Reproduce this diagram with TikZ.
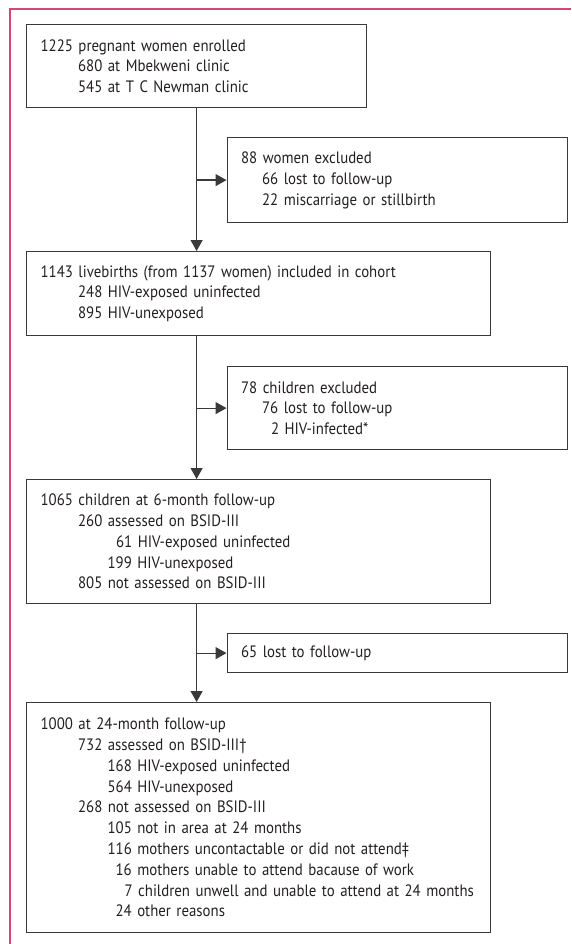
\documentclass[tikz,border=0pt]{standalone}
\usepackage{fontspec}
\setmainfont[FakeStretch=0.9]{PT Sans}
\usetikzlibrary{arrows.meta}
\definecolor{framepink}{RGB}{212,70,120}
\definecolor{boxgray}{RGB}{58,58,58}
\definecolor{txt}{RGB}{35,31,32}
\tikzset{
  box/.style={draw=boxgray, line width=1.2pt, anchor=north west, inner xsep=14pt, inner ysep=0pt,
    align=left, font=\fontsize{16.5}{20.78}\selectfont, text=txt},
  arr/.style={draw=boxgray, line width=1.2pt, -{Triangle[length=11pt,width=12pt]}}
}
\newcommand{\ind}[1]{\hspace*{#1pt}}
\begin{document}
\begin{tikzpicture}[x=1pt,y=-1pt]
\useasboundingbox (0,0) rectangle (571,944);
\draw[framepink, line width=1.3pt] (571,9) -- (10,9) -- (10,944);

\node[box, text width=312pt, minimum height=83pt] (b1) at (26,24)
 {1225 pregnant women enrolled\\
  \ind{37.5}680 at Mbekweni clinic\\
  \ind{37.5}545 at T C Newman clinic};

\node[box, text width=312pt, minimum height=85pt] (b2) at (226.5,137)
 {88 women excluded\\
  \ind{21}66 lost to follow-up\\
  \ind{21}22 miscarriage or stillbirth};

\node[box, text width=436pt, minimum height=84pt] (b3) at (26,251)
 {1143 livebirths (from 1137 women) included in cohort\\
  \ind{37.5}248 HIV-exposed uninfected\\
  \ind{37.5}895 HIV-unexposed};

\node[box, text width=312pt, minimum height=83pt] (b4) at (226.5,366)
 {78 children excluded\\
  \ind{21}76 lost to follow-up\\
  \ind{30}2 HIV-infected*};

\node[box, text width=436pt, minimum height=124pt] (b5) at (26,479)
 {1065 children at 6-month follow-up\\
  \ind{37.5}260 assessed on BSID-III\\
  \ind{75.5}61 HIV-exposed uninfected\\
  \ind{67}199 HIV-unexposed\\
  \ind{37.5}805 not assessed on BSID-III};

\node[box, text width=312pt, minimum height=39pt] (b6) at (226.5,633)
 {65 lost to follow-up};

\node[box, text width=436pt, minimum height=230pt] (b7) at (26,702)
 {1000 at 24-month follow-up\\
  \ind{37.5}732 assessed on BSID-III†\\
  \ind{67}168 HIV-exposed uninfected\\
  \ind{67}564 HIV-unexposed\\
  \ind{37.5}268 not assessed on BSID-III\\
  \ind{67}105 not in area at 24 months\\
  \ind{67}116 mothers uncontactable or did not attend‡\\
  \ind{75}16 mothers unable to attend bacause of work\\
  \ind{84}7 children unwell and unable to attend at 24 months\\
  \ind{75}24 other reasons};

\draw[arr] (b1.south) -- (b1.south |- b3.north);
\draw[arr] (b1.south |- b2.west) -- (b2.west);
\draw[arr] (b3.south -| b1.south) -- (b5.north -| b1.south);
\draw[arr] (b4.west -| b1.south) -- (b4.west);
\draw[arr] (b5.south -| b1.south) -- (b7.north -| b1.south);
\draw[arr] (b6.west -| b1.south) -- (b6.west);
\end{tikzpicture}
\end{document}
